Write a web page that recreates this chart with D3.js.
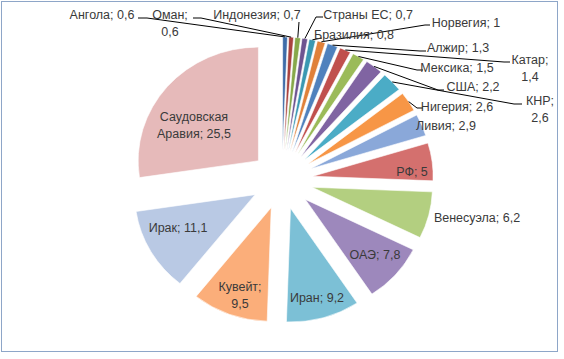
<!DOCTYPE html>
<html><head><meta charset="utf-8">
<script src="https://cdn.jsdelivr.net/npm/d3@7"></script>
<style>body{margin:0;background:#fff}svg{display:block}</style>
</head><body><svg id="c" width="564" height="359"></svg>
<script>
const categories = ["Ангола","Оман","Индонезия","Страны ЕС","Бразилия","Норвегия","Алжир","Катар","Мексика","США","КНР","Нигерия","Ливия","РФ","Венесуэла","ОАЭ","Иран","Кувейт","Ирак","Саудовская Аравия"];
const values = [0.6,0.6,0.7,0.7,0.8,1,1.3,1.4,1.5,2.2,2.6,2.6,2.9,5,6.2,7.8,9.2,9.5,11.1,25.5];
const labelText = ["Ангола; 0,6","Оман;|0,6","Индонезия; 0,7","Страны ЕС; 0,7","Бразилия; 0,8","Норвегия; 1","Алжир; 1,3","Катар;|1,4","Мексика; 1,5","США; 2,2","КНР;|2,6","Нигерия; 2,6","Ливия; 2,9","РФ; 5","Венесуэла; 6,2","ОАЭ; 7,8","Иран; 9,2","Кувейт;|9,5","Ирак; 11,1","Саудовская|Аравия; 25,5"];
const colors = ["#3e6ca8","#a9423f","#87a84a","#6d5490","#3a98b2","#e0813a","#4f81bd","#c0504d","#9bbb59","#8064a2","#4bacc6","#f79646","#8aa8d9","#d4706e","#b3cf80","#9d88bc","#7cc0d6","#fbae7a","#b9c9e4","#e6baba"];

// layout (label positions: [x, y, leader attach x, attach y, elbow x])
const layout = [
  [102,15, 138,18,147],[170,15, 193,18,201],[257,15, 299,22,299],[368,15, 323,17,316],
  [354,35, 322,38,322],[466,23, 430,25,425],[458,48, 426,51,420],[530,60, 510,62,504],
  [457,68, 423,70,417],[473,87, 444,90,438],[540,101, 522,104,514],[457,107, 423,108,417],
  [446,126],[412,172],[477,218],[375,255],[317,298],[240,287],[178,228],[194,117]
];

const svg = d3.select("#c");
svg.append("rect").attr("x",1.5).attr("y",1.5).attr("width",556).attr("height",350)
  .attr("fill","none").attr("stroke","#8ea6c8").attr("stroke-width",1);

const cx = 282, cy = 180, r = 113.7, sx = 1.058, ex = 29.4;
const pie = d3.pie().sort(null).value(d=>d).startAngle(0).endAngle(2*Math.PI);
const arcs = pie(values);
const arc = d3.arc().innerRadius(0).outerRadius(r);

const g = svg.append("g").attr("transform",`translate(${cx},${cy}) scale(${sx},1)`);
g.selectAll("path").data(arcs).join("path")
  .attr("d",arc)
  .attr("transform",d=>{const m=(d.startAngle+d.endAngle)/2;return `translate(${Math.sin(m)*ex},${-Math.cos(m)*ex})`;})
  .attr("fill",(d,i)=>colors[i]).attr("stroke","#fff").attr("stroke-width",0.6)
  .attr("vector-effect","non-scaling-stroke");

// leaders
arcs.forEach((d,i)=>{
  const L = layout[i];
  if (L.length < 5) return;
  const m=(d.startAngle+d.endAngle)/2;
  const ax = cx + sx*Math.sin(m)*(r+ex), ay = cy - Math.cos(m)*(r+ex);
  const pts = [[L[2],L[3]],[L[4],L[3]],[ax,ay]];
  svg.append("path").attr("d",d3.line()(pts)).attr("fill","none").attr("stroke","#000").attr("stroke-width",1);
});

// labels
arcs.forEach((d,i)=>{
  const L = layout[i];
  const lines = labelText[i].split("|");
  const t = svg.append("text").attr("x",L[0]).attr("y",L[1]).attr("text-anchor","middle")
    .attr("font-family","Liberation Sans, Arial, sans-serif").attr("font-size",12.5).attr("fill","#3a3a3a");
  lines.forEach((s,j)=>t.append("tspan").attr("x",L[0]).attr("y",L[1]+j*16.5).attr("dy","0.35em").text(s));
});
</script></body></html>
